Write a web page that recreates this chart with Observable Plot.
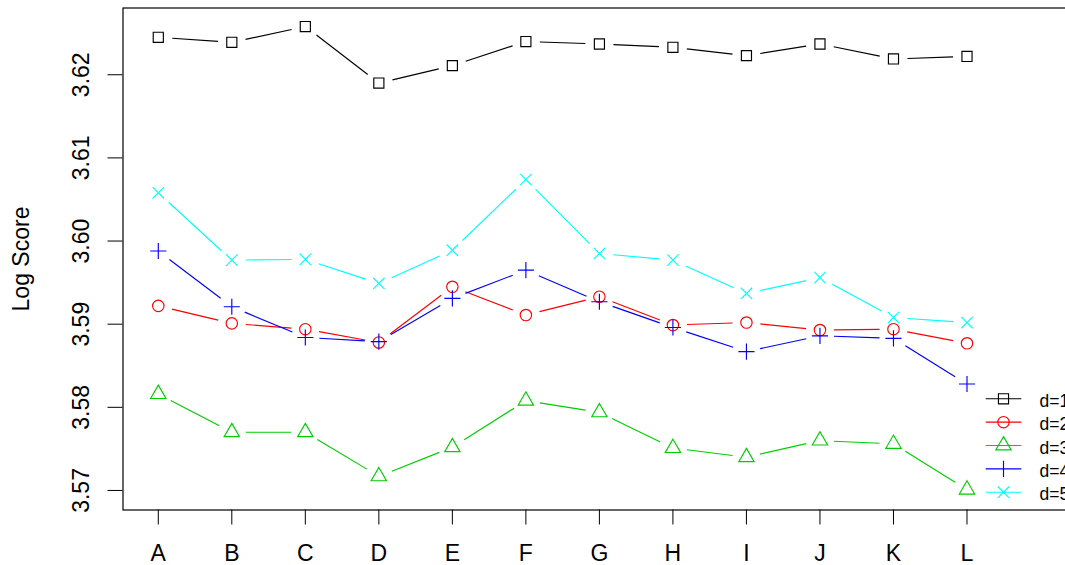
<!DOCTYPE html>
<html>
<head>
<meta charset="utf-8">
<script src="https://cdn.jsdelivr.net/npm/d3@7"></script>
<script src="https://cdn.jsdelivr.net/npm/@observablehq/plot@0.6"></script>
<style>
  html, body { margin: 0; padding: 0; background: #fff; overflow: hidden; }
  #chart { width: 1065px; height: 565px; overflow: hidden; }
  #chart svg { max-width: none; display: block; }
</style>
</head>
<body>
<div id="chart"></div>
<script>
// ---- data ----
const categories = ["A", "B", "C", "D", "E", "F", "G", "H", "I", "J", "K", "L"];
const seriesNames = ["d=1", "d=2", "d=3", "d=4", "d=5"];
const seriesColors = ["#000000", "#FF0000", "#00CD00", "#0000FF", "#00FFFF"];
const d1 = [3.6245, 3.6239, 3.6258, 3.6190, 3.6211, 3.6240, 3.6237, 3.6233, 3.6223, 3.6237, 3.6219, 3.6222];
const d2 = [3.5922, 3.5901, 3.5894, 3.5878, 3.5945, 3.5911, 3.5933, 3.5899, 3.5902, 3.5893, 3.5894, 3.5877];
const d3 = [3.5816, 3.5770, 3.5770, 3.5717, 3.5752, 3.5808, 3.5794, 3.5751, 3.5740, 3.5760, 3.5756, 3.5701];
const d4 = [3.5988, 3.5921, 3.5884, 3.5879, 3.5931, 3.5965, 3.5927, 3.5896, 3.5867, 3.5886, 3.5883, 3.5828];
const d5 = [3.6058, 3.5977, 3.5978, 3.5949, 3.5989, 3.6074, 3.5985, 3.5977, 3.5937, 3.5956, 3.5908, 3.5902];
const yTicks = [3.57, 3.58, 3.59, 3.60, 3.61, 3.62];
const yTickLabels = ["3.57", "3.58", "3.59", "3.60", "3.61", "3.62"];
const yTitle = "Log Score";

// ---- R-style plotting symbols (pch 0..4) ----
const rad = s => Math.sqrt(s / Math.PI);
const pchSquare = {draw(c, s) { const h = rad(s) * 0.88622693; c.moveTo(-h, -h); c.lineTo(h, -h); c.lineTo(h, h); c.lineTo(-h, h); c.closePath(); }};
const pchCircle = {draw(c, s) { const r = rad(s); c.moveTo(r, 0); c.arc(0, 0, r, 0, 2 * Math.PI); }};
const pchTriangle = {draw(c, s) { const x = rad(s); const r = 1.5551203 * x, yc = 0.7775602 * x, xc = 1.3467737 * x; c.moveTo(0, -r); c.lineTo(xc, yc); c.lineTo(-xc, yc); c.closePath(); }};
const pchPlus = {draw(c, s) { const x = Math.SQRT2 * rad(s); c.moveTo(-x, 0); c.lineTo(x, 0); c.moveTo(0, -x); c.lineTo(0, x); }};
const pchCross = {draw(c, s) { const x = rad(s); c.moveTo(-x, -x); c.lineTo(x, x); c.moveTo(-x, x); c.lineTo(x, -x); }};
const symbols = [pchSquare, pchCircle, pchTriangle, pchPlus, pchCross];
const withLine = (sym, half) => ({draw(c, s) { c.moveTo(-half, 0); c.lineTo(half, 0); sym.draw(c, s); }});

const allSeries = [d1, d2, d3, d4, d5];
const FONT = "'Liberation Sans', Arial, Helvetica, sans-serif";

const marks = [];
marks.push(Plot.frame({stroke: "#000", strokeWidth: 1.2}));
marks.push(Plot.axisY({ticks: yTicks, tickSize: 15, tickFormat: () => "", label: null}));
marks.push(Plot.text(yTicks, {y: d => d, text: (d, i) => yTickLabels[i], frameAnchor: "left", dx: -34.5, rotate: -90, textAnchor: "middle", lineAnchor: "bottom", fontSize: 23, fill: "#000"}));
marks.push(Plot.text([yTitle], {text: d => d, frameAnchor: "left", dx: -94.5, rotate: -90, textAnchor: "middle", lineAnchor: "bottom", fontSize: 23, fill: "#000"}));
marks.push(Plot.axisX({ticks: categories.map((c, i) => i + 1), tickFormat: i => categories[i - 1], tickSize: 15, tickPadding: 20, fontSize: 23, label: null}));

allSeries.forEach((vals, k) => {
  const color = seriesColors[k];
  const pts = vals.map((v, i) => ({x: i + 1, y: v}));
  const segs = vals.slice(1).map((v, i) => ({x1: i + 1, y1: vals[i], x2: i + 2, y2: v}));
  marks.push(Plot.arrow(segs, {x1: "x1", y1: "y1", x2: "x2", y2: "y2", stroke: color, strokeWidth: 1.15, headLength: 0, inset: 14, strokeLinecap: "butt"}));
  marks.push(Plot.dot(pts, {x: "x", y: "y", symbol: symbols[k], r: 5.7, stroke: color, fill: "none", strokeWidth: 1.15}));
});

// legend (bottom-right, inside the plot region)
seriesNames.forEach((name, k) => {
  const dy = -111.2 + 23.35 * k;
  marks.push(Plot.dot([name], {frameAnchor: "bottom-right", dx: -72.3, dy, symbol: withLine(symbols[k], 17.8), r: 5.7, stroke: seriesColors[k], fill: "none", strokeWidth: 1.15}));
  marks.push(Plot.text([name], {text: d => d, frameAnchor: "bottom-right", dx: -36.3, dy: dy + 2.5, textAnchor: "start", lineAnchor: "middle", fontSize: 17.5, fill: "#000"}));
});

const chart = Plot.plot({
  width: 1100,
  height: 565,
  marginLeft: 122.5,
  marginRight: 24.7,
  marginTop: 7.5,
  marginBottom: 55.5,
  x: {type: "linear", domain: [0.52, 13.48]},
  y: {type: "linear", domain: [3.56765, 3.62803]},
  style: {fontFamily: FONT, fontSize: "23px", background: "#fff", color: "#000", maxWidth: "none"},
  marks
});
document.getElementById("chart").appendChild(chart);
</script>
</body>
</html>
